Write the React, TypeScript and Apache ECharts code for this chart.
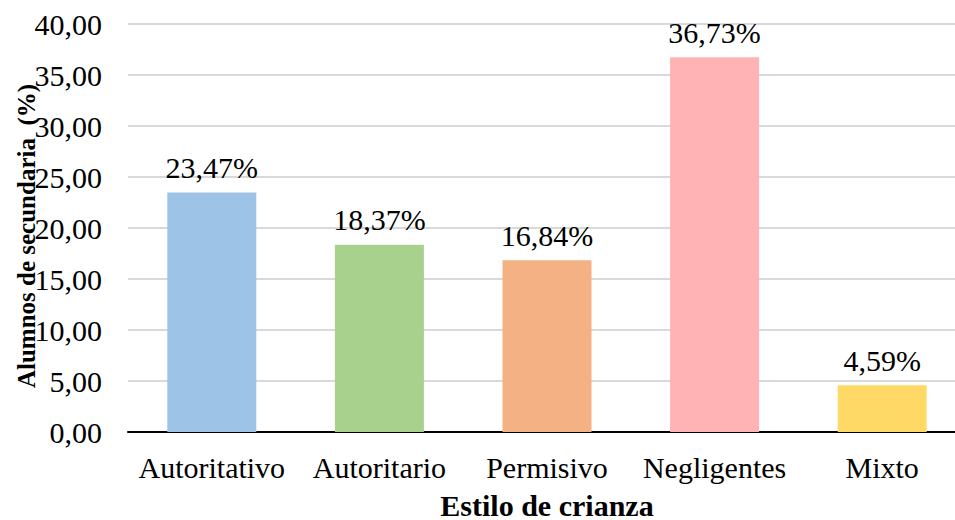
import React, { useEffect, useRef } from "react";
import * as echarts from "echarts";

const categories = ["Autoritativo", "Autoritario", "Permisivo", "Negligentes", "Mixto"];
const values = [23.47, 18.37, 16.84, 36.73, 4.59];
const colors = ["#9DC3E6", "#A9D18E", "#F4B183", "#FFB3B5", "#FFD966"];
const yTitle = "Alumnos de secundaria  (%)";
const xTitle = "Estilo de crianza";

const FONT = "Liberation Serif";
const fmt = (v: number) => v.toFixed(2).replace(".", ",");

export default function App() {
  const ref = useRef<HTMLDivElement>(null);
  useEffect(() => {
    if (!ref.current) return;
    const chart = echarts.init(ref.current, null, { renderer: "svg" });
    chart.setOption({
      animation: false,
      textStyle: { fontFamily: FONT },
      grid: { left: 128, right: -11, top: 24, bottom: 88, containLabel: false, outerBoundsMode: "none" },
      xAxis: {
        type: "category",
        data: categories,
        axisTick: { show: false },
        axisLine: { lineStyle: { color: "#000", width: 2 } },
        axisLabel: { color: "#000", fontFamily: FONT, fontSize: 30, margin: 20, interval: 0 },
        name: xTitle,
        nameLocation: "middle",
        nameGap: 59,
        nameTextStyle: { color: "#000", fontFamily: FONT, fontSize: 30, fontWeight: "bold", lineHeight: 28 },
      },
      yAxis: {
        type: "value",
        min: 0,
        max: 40,
        interval: 5,
        axisLine: { show: false },
        axisTick: { show: false },
        splitLine: { lineStyle: { color: "#D9D9D9", width: 2 } },
        axisLabel: { color: "#000", fontFamily: FONT, fontSize: 30, margin: 26, formatter: (v: number) => fmt(v) },
      },
      graphic: [
        {
          type: "text",
          x: 26,
          y: 236,
          rotation: Math.PI / 2,
          style: {
            text: yTitle,
            fill: "#000",
            font: `bold 25px ${FONT}`,
            textAlign: "center",
            textVerticalAlign: "middle",
          },
        },
      ],
      series: [
        {
          type: "bar",
          barWidth: 89,
          data: values.map((v, i) => ({ value: v, itemStyle: { color: colors[i] } })),
          label: {
            show: true,
            position: "top",
            distance: 10,
            color: "#000",
            fontFamily: FONT,
            fontSize: 30,
            formatter: (p: any) => fmt(p.value) + "%",
          },
        },
      ],
    });
    return () => chart.dispose();
  }, []);
  return <div ref={ref} style={{ position: "absolute", left: 0, top: 0, width: 955, height: 520 }} />;
}
